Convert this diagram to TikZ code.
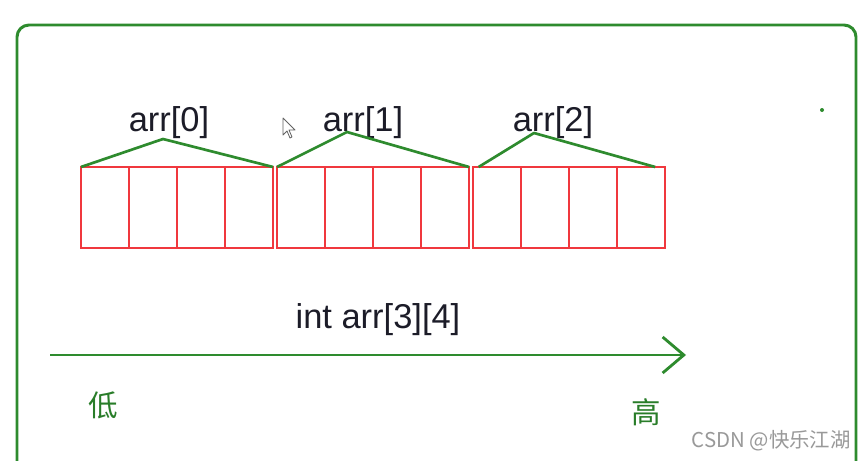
\documentclass[tikz,border=0pt]{standalone}
\usepackage{fontspec}
\setmainfont{Liberation Sans}
\newfontfamily\cjkfont{Noto Sans CJK SC}
\definecolor{arrGreen}{HTML}{2E8B2E}
\definecolor{arrRed}{HTML}{F0383E}
\definecolor{arrInk}{HTML}{1C1C28}
\definecolor{arrGray}{HTML}{8E8E8E}
\usetikzlibrary{
	arrows.meta,
	positioning
}
\tikzset{
	cell/.style={
		draw=arrRed,
		line width=2pt,
		minimum width=1.2cm,
		minimum height=2.025cm,
		inner sep=0pt,
		outer sep=0pt
	},
	roof/.style={
		draw=arrGreen,
		line width=1.9pt,
		line join=round
	},
	rowname/.style={
		font=\fontsize{24.5}{28}\selectfont,
		text=arrInk,
		anchor=base,
		inner sep=0pt
	},
	endname/.style={
		font=\cjkfont\fontsize{21}{24}\selectfont,
		text=arrGreen!90!black,
		inner sep=0pt
	},
	axisArrow/.style={
		-{Straight Barb[length=5.3mm,width=9mm,line width=2pt]},
		line width=2.1pt,
		arrGreen
	},
	outerFrame/.style={
		draw=arrGreen,
		line width=2.1pt,
		rounded corners=3mm
	}
}

\begin{document}
\begin{tikzpicture}[x=0.025cm, y=-0.025cm]
		\clip (0,0) rectangle (865,460);
		\fill[white] (0,0) rectangle (865,460);
		\draw[outerFrame] (17,25) rectangle (856,500);
		% the twelve ints, three rows of four
		\foreach \g in {0,1,2}{
			\foreach \c in {1,...,4}{
				\node[cell] (c\g\c) at ({81+196*\g+48*(\c-1)+24},207.5) {};
			}
		}
		\node[rowname] (lab0) at (169,131) {arr[0]};
		\node[rowname] (lab1) at (363,131) {arr[1]};
		\node[rowname] (lab2) at (553,131) {arr[2]};
		\coordinate (peak0) at (163,139);
		\coordinate (peak1) at (347,132);
		\coordinate (peak2) at (534,133);
		\draw[roof] (c01.north west) -- (peak0) -- (c04.north east);
		\draw[roof] (c11.north west) -- (peak1) -- (c14.north east);
		\draw[roof] ([xshift=4pt]c21.north west) -- (peak2) -- ([xshift=-7pt]c24.north east);
		\node[rowname] (decl) at (378,328) {int arr[3][4]};
		\coordinate (axisStart) at (50,355);
		\coordinate (axisEnd) at (686,355);
		\draw[axisArrow] (axisStart) -- (axisEnd);
		\node[endname] (low) at (103,405) {低};
		\node[endname] (high) at (646,412) {高};
		\fill[arrGreen] (822,110) circle (2);
		\draw[arrGray!70!black, fill=white, line width=0.6pt, line join=round]
			(283,118) -- (283,135) -- (287,131) -- (290,138) -- (292,137) -- (289,130) -- (295,130) -- cycle;
		\node[font=\cjkfont\fontsize{14.5}{16}\selectfont, text=arrGray!90, anchor=south east, inner sep=0pt] (mark) at (851,451) {CSDN @快乐江湖};
	\end{tikzpicture}
\end{document}
